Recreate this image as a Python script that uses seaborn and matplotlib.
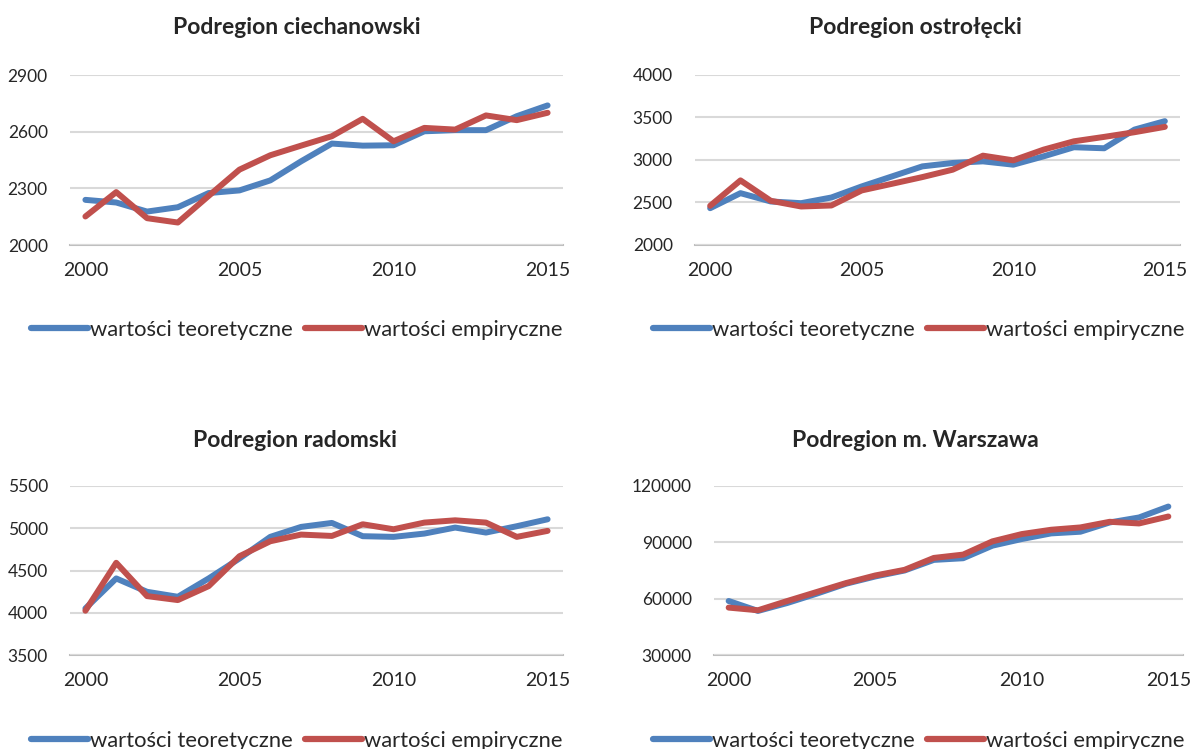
import matplotlib
matplotlib.use("Agg")
import matplotlib.pyplot as plt
import numpy as np
import pandas as pd
import seaborn as sns
from matplotlib.lines import Line2D

sns.set_style("white")
plt.rcParams["font.family"] = ["Lato", "DejaVu Sans"]

# ---- data -----------------------------------------------------------------
years = list(range(2000, 2016))
year_labels = ["2000", "2005", "2010", "2015"]
series_names = ["wartości teoretyczne", "wartości empiryczne"]
series_colors = ["#4F81BD", "#C0504D"]

ciech_teor = [2239, 2225, 2177, 2200, 2275, 2289, 2342, 2443, 2537, 2526,
              2528, 2602, 2608, 2608, 2682, 2739]
ciech_emp = [2151, 2280, 2142, 2119, 2260, 2399, 2475, 2526, 2576, 2668,
             2549, 2620, 2611, 2686, 2661, 2700]

ostr_teor = [2433, 2610, 2512, 2492, 2559, 2689, 2807, 2925, 2965, 2984,
             2945, 3043, 3150, 3138, 3358, 3457]
ostr_emp = [2461, 2760, 2520, 2453, 2465, 2642, 2720, 2799, 2886, 3051,
            2996, 3122, 3220, 3272, 3327, 3390]

radom_teor = [4051, 4406, 4248, 4189, 4406, 4642, 4898, 5016, 5063, 4906,
              4898, 4937, 5008, 4949, 5024, 5106]
radom_emp = [4024, 4591, 4197, 4150, 4315, 4669, 4846, 4925, 4909, 5047,
             4988, 5067, 5094, 5067, 4898, 4969]

waw_teor = [58760, 53470, 57700, 62650, 67940, 71820, 75000, 80650, 81530,
            88240, 91760, 94760, 95650, 100590, 103240, 109060]
waw_emp = [55240, 53820, 58760, 63530, 68290, 72350, 75350, 81700, 83470,
           90530, 94400, 96700, 97940, 100940, 100060, 103760]

panels = [
    ("Podregion ciechanowski", ciech_teor, ciech_emp, [2000, 2300, 2600, 2900]),
    ("Podregion ostrołęcki", ostr_teor, ostr_emp, [2000, 2500, 3000, 3500, 4000]),
    ("Podregion radomski", radom_teor, radom_emp, [3500, 4000, 4500, 5000, 5500]),
    ("Podregion m. Warszawa", waw_teor, waw_emp, [30000, 60000, 90000, 120000]),
]

# ---- layout (pixel boxes: left, right, top, bottom) -------------------------
W, H = 1192, 749
boxes = [(70, 563, 75, 245), (695, 1180, 75, 245),
         (70, 563, 486, 655), (714, 1183, 486, 655)]
title_pos = [(297, 28), (915, 28), (295, 440), (915, 440)]
legend_pos = [(31, 330), (653, 330), (31, 741), (653, 741)]

fig = plt.figure(figsize=(W / 100, H / 100), dpi=100)
grid_color = "#D9D9D9"
axis_color = "#BFBFBF"

for (title, teor, emp, yticks), (x0, x1, yt, yb), (tx, ty), (lx, ly) in zip(
        panels, boxes, title_pos, legend_pos):
    ax = fig.add_axes([x0 / W, 1 - yb / H, (x1 - x0) / W, (yb - yt) / H])
    n = len(years)
    df = pd.DataFrame({
        "pos": list(range(n)) * 2,
        "value": teor + emp,
        "seria": [series_names[0]] * n + [series_names[1]] * n,
    })
    sns.lineplot(data=df, x="pos", y="value", hue="seria",
                 hue_order=series_names, palette=series_colors,
                 linewidth=4.3, legend=False, ax=ax,
                 solid_capstyle="round", solid_joinstyle="round")

    ax.set_xlim(-0.5, n - 0.5)
    ax.set_ylim(yticks[0], yticks[-1])
    ax.set_yticks(yticks)
    ax.set_yticklabels([str(v) for v in yticks], fontsize=12.5)
    ax.set_xticks([years.index(int(y)) for y in year_labels])
    ax.set_xticklabels(year_labels, fontsize=14)
    ax.set_xticks(np.arange(-0.5, n, 1.0), minor=True)
    ax.tick_params(axis="x", which="major", length=0, pad=12)
    ax.tick_params(axis="x", which="minor", length=8, width=1.3,
                   color=axis_color, direction="out")
    ax.tick_params(axis="y", length=0, pad=16)
    ax.set_xlabel("")
    ax.set_ylabel("")
    ax.yaxis.grid(True, color=grid_color, linewidth=1.5)
    ax.xaxis.grid(False)
    ax.set_axisbelow(True)
    for side in ("top", "right", "left"):
        ax.spines[side].set_visible(False)
    ax.spines["bottom"].set_color(axis_color)
    ax.spines["bottom"].set_linewidth(1.5)
    ax.spines["bottom"].set_zorder(0.5)

    fig.text(tx / W, 1 - ty / H, title, ha="center", va="center",
             fontsize=16.5, fontweight="bold")

    handles = [Line2D([], [], color=c, linewidth=4.5, solid_capstyle="round")
               for c in series_colors]
    fig.legend(handles, series_names, loc="center left",
               bbox_to_anchor=(lx / W, 1 - ly / H), ncol=2, frameon=False,
               fontsize=15.8, handlelength=2.6, handletextpad=0.1,
               columnspacing=0.55, borderaxespad=0, borderpad=0)

fig.savefig("out.png", dpi=100, facecolor="white")
